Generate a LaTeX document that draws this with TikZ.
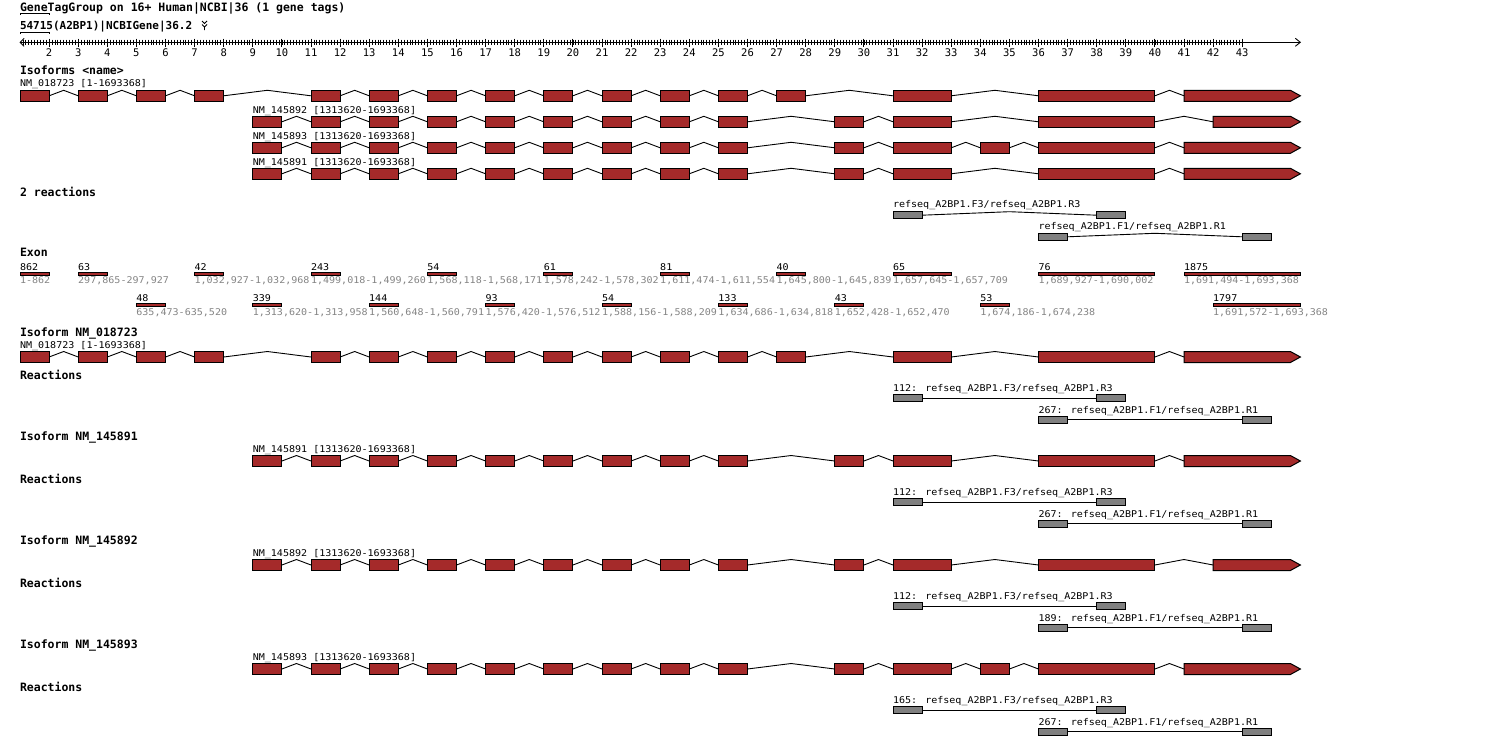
\documentclass[tikz,border=0pt]{standalone}
\usepackage{fontspec}
\newfontfamily\mono[FakeStretch=1.08]{DejaVu Sans Mono}
\newfontfamily\monob{DejaVu Sans Mono}
\usetikzlibrary{calc,arrows.meta}
\definecolor{exred}{HTML}{A52A2A}
\definecolor{pgray}{HTML}{808080}
\definecolor{tgray}{HTML}{858585}
\newcommand\U[1]{20+29.1*(#1)}
\tikzset{
  exonbox/.style={rectangle,draw=black,fill=exred,inner sep=0pt,outer sep=0pt,minimum height=11,anchor=north west},
  exonhold/.style={rectangle,draw=none,inner sep=0pt,outer sep=0pt,minimum height=11,anchor=north west},
  pbox/.style={rectangle,draw=black,fill=pgray,inner sep=0pt,outer sep=0pt,minimum height=7,minimum width=29.1,anchor=north west},
  ebar/.style={rectangle,draw=black,fill=exred,inner sep=0pt,outer sep=0pt,minimum height=3.2,anchor=north west},
  lbl/.style={inner sep=0pt,outer sep=0pt,anchor=base west,font=\mono\fontsize{9.3}{11}\selectfont},
  rlbl/.style={inner sep=0pt,outer sep=0pt,anchor=base,font=\monob\fontsize{10.5}{12}\selectfont},
  glbl/.style={lbl,text=tgray},
  hdr/.style={inner sep=0pt,outer sep=0pt,anchor=base west,font=\monob\bfseries\fontsize{11.5}{13}\selectfont},
  hdrs/.style={hdr,font=\monob\bfseries\fontsize{11}{13}\selectfont},
  intron/.style={draw=black,line width=0.9pt},
}
% gene track: #1 name, #2 top y, #3 list s/w, #4 arrow start, #5 arrow width
\newcommand\gtrack[5]{%
  \foreach \s/\w [count=\i] in {#3} {%
    \node[exonbox,minimum width={29.1*\w}] (#1-\i) at ({\U{\s}},#2) {};
    \xdef\lastn{\i}%
  }%
  \foreach \i [remember=\i as \j (initially 1)] in {2,...,\lastn} {%
    \draw[intron] (#1-\j.east) -- ($(#1-\j.north east)!0.5!(#1-\i.north west)$) -- (#1-\i.west);
  }%
  \node[exonhold,minimum width={29.1*#5}] (#1-a) at ({\U{#4}},#2) {};
  \filldraw[fill=exred,draw=black] (#1-a.north west) -- ([xshift=-10pt]#1-a.north east) -- (#1-a.east) -- ([xshift=-10pt]#1-a.south east) -- (#1-a.south west) -- cycle;
  \draw[intron] (#1-\lastn.east) -- ($(#1-\lastn.north east)!0.5!(#1-a.north west)$) -- (#1-a.west);
}
% reaction: #1 name, #2 top, #3 s1, #4 s2, #5 arch
\newcommand\react[5]{%
  \node[pbox] (#1-l) at ({\U{#3}},#2) {};
  \node[pbox] (#1-r) at ({\U{#4}},#2) {};
  \ifnum#5=1
    \draw[intron] (#1-l.east) -- ($(#1-l.north east)!0.5!(#1-r.north west)$) -- (#1-r.west);
  \else
    \draw[intron] (#1-l.east) -- (#1-r.west);
  \fi
}
% exon bar: #1 name, #2 s, #3 w, #4 top, #5 number, #6 range
\newcommand\exbar[6]{%
  \node[ebar,minimum width={29.1*#3}] (#1) at ({\U{#2}},#4) {};
  \node[lbl] (#1-n) at ({\U{#2}},#4-2.3) {#5};
  \node[glbl] (#1-c) at ({\U{#2}},#4+11.6) {#6};
}
\begin{document}
\begin{tikzpicture}[x=1pt,y=-1pt,line width=1pt]
\useasboundingbox (0,0) rectangle (1500,736);
\fill[white] (0,0) rectangle (1500,736);

% header
\node[hdr] (t1) at (20,11) {GeneTagGroup on 16+ Human|NCBI|36 (1 gene tags)};
\draw[line width=0.9pt] (20,15) -- (20,13.3) -- (49.1,13.3) -- (49.1,15);
\node[hdrs] (t2) at (20,30) {54715(A2BP1)|NCBIGene|36.2};
\draw[line width=0.9pt] (20,34) -- (20,32.3) -- (49.1,32.3) -- (49.1,34);
\draw[line width=0.8pt] (202,21) -- (204.5,23.5) -- (207,21);
\draw[line width=0.8pt] (202,24.5) -- (204.5,27) -- (207,24.5) (204.5,27) -- (204.5,30);

% ruler
\coordinate (rl) at (19.5,42.3);
\coordinate (rr) at (1301,42.3);
\draw[line width=0.9pt,{Straight Barb[length=4pt,width=8pt]}-{Straight Barb[length=5pt,width=8pt]}] (rl) -- (rr);
\draw[line width=0.8pt] \foreach \t in {1,...,420} { ({20+2.91*\t},39.5) -- ++(0,5.5) };
\foreach \k in {2,...,43} {
  \draw[line width=0.9pt] ({\U{\k-1}},38.5) -- ++(0,8);
  \node[rlbl] (rk\k) at ({\U{\k-1}},56) {\k};
}

% isoforms overview
\node[hdr] (iso) at (20,74.7) {Isoforms <name>};
\node[lbl] (la) at (20,86.7) {NM\_018723 [1-1693368]};
\gtrack{ta}{90.3}{0/1,2/1,4/1,6/1,10/1,12/1,14/1,16/1,18/1,20/1,22/1,24/1,26/1,30/2,35/4}{40}{4}
\node[lbl] (lb) at ({\U{8}},113) {NM\_145892 [1313620-1693368]};
\gtrack{tb}{116.3}{8/1,10/1,12/1,14/1,16/1,18/1,20/1,22/1,24/1,28/1,30/2,35/4}{41}{3}
\node[lbl] (lc) at ({\U{8}},139) {NM\_145893 [1313620-1693368]};
\gtrack{tc}{142.3}{8/1,10/1,12/1,14/1,16/1,18/1,20/1,22/1,24/1,28/1,30/2,33/1,35/4}{40}{4}
\node[lbl] (ld) at ({\U{8}},165) {NM\_145891 [1313620-1693368]};
\gtrack{td}{168.3}{8/1,10/1,12/1,14/1,16/1,18/1,20/1,22/1,24/1,28/1,30/2,35/4}{40}{4}

% reactions overview
\node[hdr] (rx) at (20,196.5) {2 reactions};
\node[lbl] (r1t) at ({\U{30}},207.3) {refseq\_A2BP1.F3/refseq\_A2BP1.R3};
\react{r1}{211.7}{30}{37}{1}
\node[lbl] (r2t) at ({\U{35}},229) {refseq\_A2BP1.F1/refseq\_A2BP1.R1};
\react{r2}{233.3}{35}{42}{1}

% exons
\node[hdr] (ex) at (20,256.7) {Exon};
\exbar{e1}{0}{1}{272.3}{862}{1-862}
\exbar{e2}{2}{1}{272.3}{63}{297,865-297,927}
\exbar{e4}{6}{1}{272.3}{42}{1,032,927-1,032,968}
\exbar{e6}{10}{1}{272.3}{243}{1,499,018-1,499,260}
\exbar{e8}{14}{1}{272.3}{54}{1,568,118-1,568,171}
\exbar{e10}{18}{1}{272.3}{61}{1,578,242-1,578,302}
\exbar{e12}{22}{1}{272.3}{81}{1,611,474-1,611,554}
\exbar{e14}{26}{1}{272.3}{40}{1,645,800-1,645,839}
\exbar{e16}{30}{2}{272.3}{65}{1,657,645-1,657,709}
\exbar{e18}{35}{4}{272.3}{76}{1,689,927-1,690,002}
\exbar{e19}{40}{4}{272.3}{1875}{1,691,494-1,693,368}
\exbar{e3}{4}{1}{303.5}{48}{635,473-635,520}
\exbar{e5}{8}{1}{303.5}{339}{1,313,620-1,313,958}
\exbar{e7}{12}{1}{303.5}{144}{1,560,648-1,560,791}
\exbar{e9}{16}{1}{303.5}{93}{1,576,420-1,576,512}
\exbar{e11}{20}{1}{303.5}{54}{1,588,156-1,588,209}
\exbar{e13}{24}{1}{303.5}{133}{1,634,686-1,634,818}
\exbar{e15}{28}{1}{303.5}{43}{1,652,428-1,652,470}
\exbar{e17}{33}{1}{303.5}{53}{1,674,186-1,674,238}
\exbar{e20}{41}{3}{303.5}{1797}{1,691,572-1,693,368}

% Isoform NM_018723
\node[hdr] (h1) at (20,336.7) {Isoform NM\_018723};
\node[lbl] (h1l) at (20,348.3) {NM\_018723 [1-1693368]};
\gtrack{sa}{351.5}{0/1,2/1,4/1,6/1,10/1,12/1,14/1,16/1,18/1,20/1,22/1,24/1,26/1,30/2,35/4}{40}{4}
\node[hdr] (h1r) at (20,379) {Reactions};
\node[lbl] (h1r1t) at ({\U{30}},391.7) {112: refseq\_A2BP1.F3/refseq\_A2BP1.R3};
\react{h1r1}{394.5}{30}{37}{0}
\node[lbl] (h1r2t) at ({\U{35}},413) {267: refseq\_A2BP1.F1/refseq\_A2BP1.R1};
\react{h1r2}{416.3}{35}{42}{0}

% Isoform NM_145891
\node[hdr] (h2) at (20,440.7) {Isoform NM\_145891};
\node[lbl] (h2l) at ({\U{8}},452.3) {NM\_145891 [1313620-1693368]};
\gtrack{sb}{455.5}{8/1,10/1,12/1,14/1,16/1,18/1,20/1,22/1,24/1,28/1,30/2,35/4}{40}{4}
\node[hdr] (h2r) at (20,483) {Reactions};
\node[lbl] (h2r1t) at ({\U{30}},495.7) {112: refseq\_A2BP1.F3/refseq\_A2BP1.R3};
\react{h2r1}{498.5}{30}{37}{0}
\node[lbl] (h2r2t) at ({\U{35}},517) {267: refseq\_A2BP1.F1/refseq\_A2BP1.R1};
\react{h2r2}{520.3}{35}{42}{0}

% Isoform NM_145892
\node[hdr] (h3) at (20,544.7) {Isoform NM\_145892};
\node[lbl] (h3l) at ({\U{8}},556.3) {NM\_145892 [1313620-1693368]};
\gtrack{sc}{559.5}{8/1,10/1,12/1,14/1,16/1,18/1,20/1,22/1,24/1,28/1,30/2,35/4}{41}{3}
\node[hdr] (h3r) at (20,587) {Reactions};
\node[lbl] (h3r1t) at ({\U{30}},599.7) {112: refseq\_A2BP1.F3/refseq\_A2BP1.R3};
\react{h3r1}{602.5}{30}{37}{0}
\node[lbl] (h3r2t) at ({\U{35}},621) {189: refseq\_A2BP1.F1/refseq\_A2BP1.R1};
\react{h3r2}{624.3}{35}{42}{0}

% Isoform NM_145893
\node[hdr] (h4) at (20,648.7) {Isoform NM\_145893};
\node[lbl] (h4l) at ({\U{8}},660.3) {NM\_145893 [1313620-1693368]};
\gtrack{sd}{663.5}{8/1,10/1,12/1,14/1,16/1,18/1,20/1,22/1,24/1,28/1,30/2,33/1,35/4}{40}{4}
\node[hdr] (h4r) at (20,691) {Reactions};
\node[lbl] (h4r1t) at ({\U{30}},703.7) {165: refseq\_A2BP1.F3/refseq\_A2BP1.R3};
\react{h4r1}{706.5}{30}{37}{0}
\node[lbl] (h4r2t) at ({\U{35}},725) {267: refseq\_A2BP1.F1/refseq\_A2BP1.R1};
\react{h4r2}{728.3}{35}{42}{0}
\end{tikzpicture}
\end{document}
